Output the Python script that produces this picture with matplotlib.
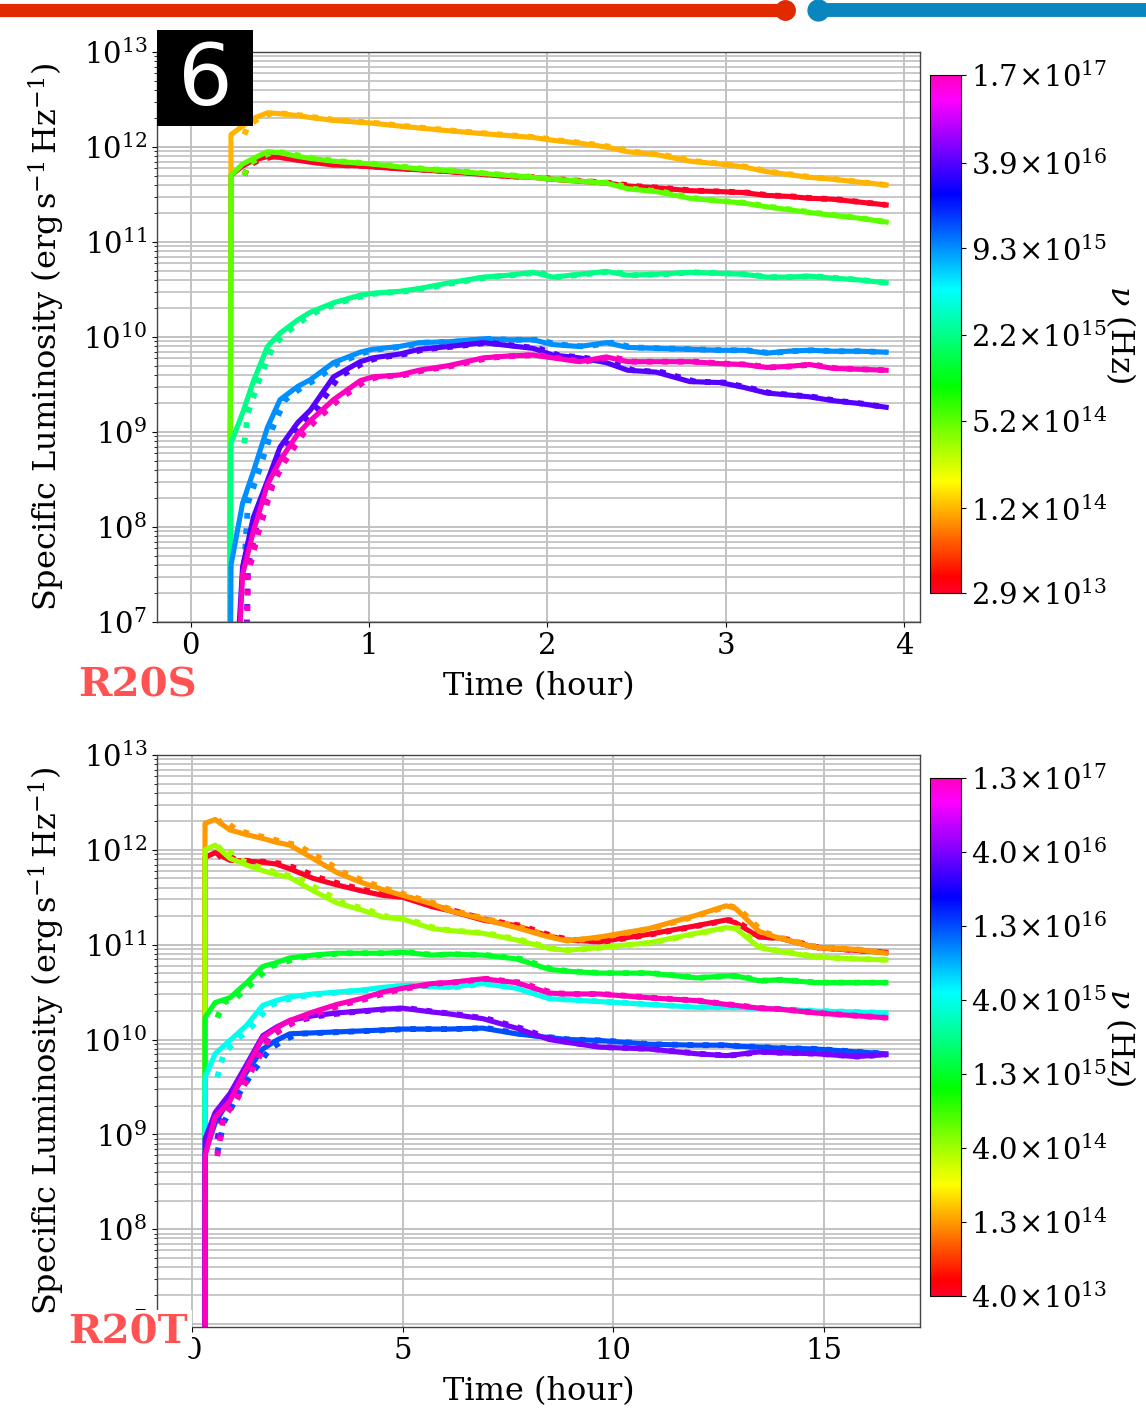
import numpy as np
import matplotlib
matplotlib.use("Agg")
import matplotlib.pyplot as plt
from matplotlib.colors import LogNorm
from matplotlib.cm import ScalarMappable
from matplotlib.lines import Line2D
from matplotlib.patches import Rectangle

plt.rcParams['font.family'] = 'DejaVu Serif'
plt.rcParams['mathtext.fontset'] = 'dejavuserif'
plt.rcParams['font.size'] = 21

# ---- R20S : light curves (log10 L_nu), solid = simulation, dotted = fit
t_S = [0.215, 0.225, 0.29, 0.35, 0.43, 0.5, 0.6, 0.67, 0.8, 0.95, 1.02, 1.17, 1.28, 1.45, 1.64, 1.78,
       1.92, 2.03, 2.18, 2.33, 2.45, 2.61, 2.8, 2.97, 3.1, 3.23, 3.35, 3.47, 3.6, 3.75, 3.9]
t_S_fit = [0.30, 0.32, 0.38, 0.46, 0.53, 0.63, 0.70, 0.83, 0.98, 1.05, 1.20, 1.31, 1.48, 1.67, 1.81,
           1.95, 2.06, 2.21, 2.36, 2.48, 2.64, 2.83, 2.99, 3.12, 3.25, 3.37, 3.49, 3.62, 3.76, 3.9]
nu_S = [2.9e13, 1.2e14, 5.2e14, 2.2e15, 9.3e15, 3.9e16, 1.7e17]

L_S_red = [4.0, 11.70, 11.80, 11.86, 11.90, 11.89, 11.86, 11.84, 11.81, 11.80, 11.79, 11.77, 11.76, 11.74, 11.71,
           11.69, 11.68, 11.66, 11.64, 11.62, 11.59, 11.57, 11.54, 11.53, 11.52, 11.49, 11.48, 11.46, 11.45, 11.42, 11.39]
L_S_orange = [4.0, 12.13, 12.22, 12.30, 12.36, 12.35, 12.33, 12.31, 12.28, 12.26, 12.25, 12.22, 12.20, 12.17, 12.14,
              12.12, 12.10, 12.07, 12.04, 12.00, 11.95, 11.92, 11.85, 11.82, 11.79, 11.74, 11.71, 11.68, 11.66, 11.63, 11.60]
L_S_lime = [4.0, 11.70, 11.82, 11.88, 11.95, 11.94, 11.90, 11.88, 11.85, 11.83, 11.82, 11.79, 11.77, 11.75, 11.72,
            11.70, 11.68, 11.66, 11.64, 11.62, 11.56, 11.53, 11.46, 11.43, 11.41, 11.37, 11.34, 11.31, 11.28, 11.25, 11.21]
L_S_spring = [4.0, 8.88, 9.20, 9.53, 9.90, 10.04, 10.18, 10.26, 10.36, 10.44, 10.46, 10.48, 10.51, 10.57, 10.63,
              10.65, 10.68, 10.63, 10.66, 10.69, 10.65, 10.66, 10.68, 10.67, 10.66, 10.63, 10.63, 10.64, 10.62, 10.60, 10.57]
L_S_azure = [4.0, 7.60, 8.25, 8.58, 9.05, 9.34, 9.48, 9.55, 9.73, 9.84, 9.87, 9.90, 9.94, 9.95, 9.98,
             9.97, 9.97, 9.92, 9.90, 9.94, 9.89, 9.88, 9.87, 9.86, 9.86, 9.83, 9.85, 9.86, 9.85, 9.85, 9.84]
L_S_violet = [4.0, 5.50, 7.58, 8.10, 8.49, 8.84, 9.10, 9.23, 9.58, 9.74, 9.78, 9.82, 9.87, 9.90, 9.94,
              9.91, 9.88, 9.81, 9.78, 9.73, 9.65, 9.63, 9.53, 9.52, 9.47, 9.41, 9.39, 9.37, 9.33, 9.30, 9.26]
L_S_magenta = [4.0, 5.00, 7.50, 7.95, 8.45, 8.70, 8.98, 9.12, 9.34, 9.54, 9.58, 9.60, 9.65, 9.70, 9.78,
               9.80, 9.81, 9.78, 9.74, 9.79, 9.74, 9.74, 9.74, 9.72, 9.71, 9.68, 9.69, 9.71, 9.67, 9.66, 9.65]

# ---- R20T
t_T = [0.30, 0.31, 0.55, 0.9, 1.3, 1.68, 2.0, 2.32, 2.87, 3.44, 4.0, 4.53, 5.0, 5.7, 6.1, 6.9, 7.7,
       8.48, 8.9, 9.67, 10.85, 11.97, 12.68, 12.91, 13.46, 13.93, 14.81, 15.76, 16.47]
t_T_fit = [0.6, 0.75, 1.05, 1.45, 1.85, 2.17, 2.5, 3.05, 3.6, 4.15, 4.67, 5.12, 5.8, 6.2, 7.0, 7.8,
           8.57, 8.98, 9.75, 10.92, 12.03, 12.75, 12.98, 13.53, 14.0, 14.87, 15.8, 16.47]
nu_T = [4.0e13, 1.26e14, 4.0e14, 1.26e15, 4.0e15, 1.26e16, 4.0e16, 1.26e17]

L_T_red = [4.0, 11.92, 11.97, 11.89, 11.88, 11.87, 11.85, 11.80, 11.70, 11.63, 11.57, 11.52, 11.50, 11.40, 11.36,
           11.26, 11.20, 11.09, 11.05, 11.03, 11.11, 11.20, 11.26, 11.23, 11.08, 11.07, 10.97, 10.94, 10.92]
L_T_orange = [4.0, 12.28, 12.32, 12.21, 12.16, 12.12, 12.08, 12.05, 11.91, 11.76, 11.66, 11.58, 11.52, 11.43, 11.36,
              11.27, 11.18, 11.08, 11.04, 11.08, 11.17, 11.31, 11.41, 11.38, 11.14, 11.07, 10.97, 10.95, 10.91]
L_T_lime = [4.0, 12.00, 12.05, 11.91, 11.84, 11.78, 11.74, 11.71, 11.57, 11.44, 11.37, 11.29, 11.27, 11.17, 11.15,
            11.12, 11.05, 10.96, 10.94, 10.97, 11.02, 11.12, 11.18, 11.17, 10.97, 10.93, 10.87, 10.85, 10.84]
L_T_green = [4.0, 10.23, 10.39, 10.44, 10.60, 10.77, 10.81, 10.86, 10.89, 10.91, 10.91, 10.91, 10.92, 10.89, 10.90,
             10.89, 10.85, 10.74, 10.72, 10.70, 10.70, 10.65, 10.67, 10.67, 10.62, 10.63, 10.60, 10.60, 10.60]
L_T_cyan = [4.0, 9.60, 9.85, 9.99, 10.15, 10.36, 10.41, 10.45, 10.48, 10.50, 10.52, 10.55, 10.57, 10.56, 10.55,
            10.59, 10.54, 10.43, 10.42, 10.40, 10.37, 10.34, 10.34, 10.34, 10.33, 10.32, 10.30, 10.29, 10.28]
L_T_blue = [4.0, 8.80, 9.12, 9.38, 9.66, 9.90, 9.99, 10.06, 10.07, 10.08, 10.09, 10.10, 10.11, 10.11, 10.11,
            10.12, 10.06, 10.02, 10.00, 9.99, 9.95, 9.94, 9.94, 9.93, 9.92, 9.91, 9.90, 9.87, 9.85]
L_T_violet = [4.0, 8.95, 9.23, 9.43, 9.74, 10.04, 10.13, 10.20, 10.25, 10.28, 10.30, 10.32, 10.33, 10.29, 10.27,
              10.22, 10.12, 10.00, 9.97, 9.92, 9.90, 9.85, 9.83, 9.84, 9.87, 9.86, 9.85, 9.82, 9.84]
L_T_magenta = [4.0, 8.77, 9.18, 9.35, 9.70, 10.02, 10.12, 10.20, 10.29, 10.37, 10.43, 10.50, 10.54, 10.59, 10.60,
               10.64, 10.60, 10.49, 10.48, 10.48, 10.44, 10.41, 10.37, 10.36, 10.33, 10.32, 10.28, 10.25, 10.23]

lums_S = [L_S_red, L_S_orange, L_S_lime, L_S_spring, L_S_azure, L_S_violet, L_S_magenta]
lums_T = [L_T_red, L_T_orange, L_T_lime, L_T_green, L_T_cyan, L_T_blue, L_T_violet, L_T_magenta]

cmap = plt.get_cmap('gist_rainbow')


def sci_label(v):
    m, e = f"{v:.1e}".split("e")
    return r"$%s\!\times\!10^{%d}$" % (m, int(e))


def light_curve_panel(fig, ax_rect, cax_rect, t, t_fit, nus, lums, xlim, ylim, xticks):
    ax = fig.add_axes(ax_rect)
    norm = LogNorm(vmin=nus[0], vmax=nus[-1])
    for nu, logL in zip(nus, lums):
        c = cmap(norm(nu))
        L = 10 ** np.array(logL)
        ax.plot(t_fit, L[1:], ls=':', color=c, lw=4.2)
        ax.plot(t, L, color=c, lw=3.7)
    ax.set_yscale('log')
    ax.set_xlim(*xlim)
    ax.set_ylim(*ylim)
    ax.set_xticks(xticks)
    ax.set_yticks([1e7, 1e8, 1e9, 1e10, 1e11, 1e12, 1e13])
    ax.grid(True, which='major', color='#bdbdbd', lw=1.3)
    ax.grid(True, which='minor', axis='y', color='#c4c4c4', lw=1.3)
    ax.set_axisbelow(True)
    for s in ax.spines.values():
        s.set_color('#444444')
        s.set_linewidth(1.0)
    ax.set_xlabel('Time (hour)', fontsize=23, labelpad=8)
    ax.set_ylabel(r'Specific Luminosity $(\mathrm{erg\,s^{-1}\,Hz^{-1}})$', fontsize=23)
    ax.yaxis.set_label_coords(-0.118, 0.5)

    cax = fig.add_axes(cax_rect)
    cb = fig.colorbar(ScalarMappable(norm=norm, cmap=cmap), cax=cax)
    cb.ax.minorticks_off()
    cb.set_ticks(nus)
    cb.set_ticklabels([sci_label(v) for v in nus])
    cb.ax.tick_params(labelsize=21)
    cb.set_label(r'$\nu$ (Hz)', rotation=270, fontsize=23, labelpad=22)
    return ax


fig = plt.figure(figsize=(11.46, 14.12), dpi=100)

light_curve_panel(fig, [0.137, 0.5595, 0.6658, 0.4037], [0.8115, 0.580, 0.027, 0.3669],
                  t_S, t_S_fit, nu_S, lums_S, (-0.19, 4.09), (1e7, 1e13), [0, 1, 2, 3, 4])
light_curve_panel(fig, [0.137, 0.0602, 0.6658, 0.4051], [0.8115, 0.0822, 0.027, 0.3669],
                  t_T, t_T_fit, nu_T, lums_T, (-0.83, 17.28), (9.3e6, 1e13), [0, 5, 10, 15])

# model labels
fig.text(78 / 1146, 1 - 685 / 1412, 'R20S', color='#ff5252', fontsize=29, fontweight='bold',
         ha='left', va='center')
fig.text(68 / 1146, 1 - 1333 / 1412, 'R20T', color='#ff5252', fontsize=29, fontweight='bold',
         ha='left', va='center',
         bbox=dict(facecolor='white', edgecolor='none', pad=3))

# panel number badge
fig.patches.append(Rectangle((157 / 1146, 1 - 126 / 1412), 96 / 1146, 96 / 1412,
                             transform=fig.transFigure, facecolor='black', edgecolor='none', zorder=5))
fig.text(205 / 1146, 1 - 82 / 1412, '6', color='white', fontsize=62, family='DejaVu Sans',
         ha='center', va='center', zorder=6)

# marker strokes along the top edge
y_top = 1 - 10 / 1412
fig.add_artist(Line2D([0, 785 / 1146], [y_top, y_top], transform=fig.transFigure,
                      color='#e22a00', lw=9.5, solid_capstyle='round'))
fig.add_artist(Line2D([785 / 1146], [y_top], transform=fig.transFigure, marker='o',
                      markersize=14, color='#e22a00', lw=0))
fig.add_artist(Line2D([818 / 1146, 1.0], [y_top, y_top], transform=fig.transFigure,
                      color='#0a86bf', lw=10, solid_capstyle='round'))
fig.add_artist(Line2D([818 / 1146], [y_top], transform=fig.transFigure, marker='o',
                      markersize=15, color='#0a86bf', lw=0))

fig.savefig('out.png', dpi=100)
